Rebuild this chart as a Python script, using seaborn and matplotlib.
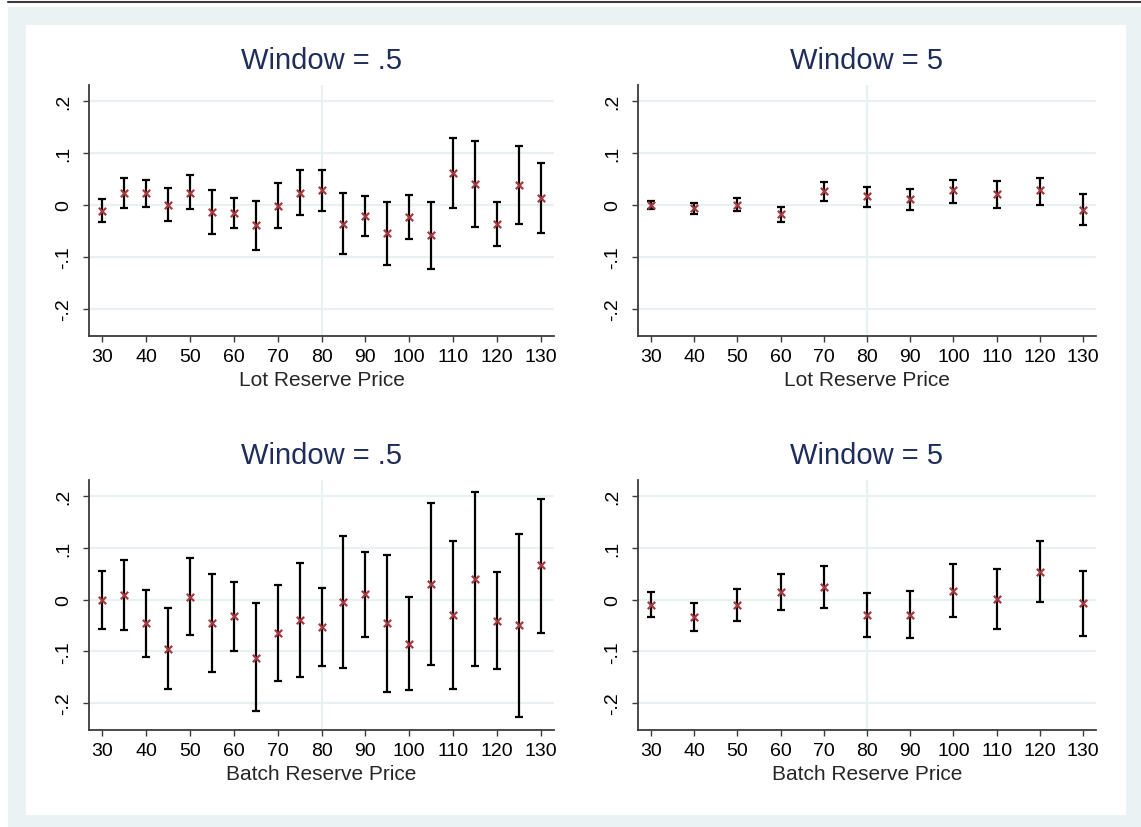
import numpy as np
import pandas as pd
import matplotlib
matplotlib.use("Agg")
import matplotlib.pyplot as plt
from matplotlib.patches import Rectangle
from matplotlib.lines import Line2D
import seaborn as sns

sns.set_theme(style="white")
plt.rcParams['font.family'] = ['Liberation Sans', 'DejaVu Sans']

# ---------------- data ----------------
x_fine = [30, 35, 40, 45, 50, 55, 60, 65, 70, 75, 80, 85, 90, 95, 100, 105, 110, 115, 120, 125, 130]
x_coarse = [30, 40, 50, 60, 70, 80, 90, 100, 110, 120, 130]

lot_w05_est = [-0.011, 0.023, 0.023, 0.001, 0.024, -0.014, -0.015, -0.039, -0.001, 0.023, 0.028,
               -0.036, -0.021, -0.054, -0.023, -0.058, 0.061, 0.041, -0.037, 0.038, 0.014]
lot_w05_hi = [0.011, 0.052, 0.049, 0.033, 0.058, 0.029, 0.014, 0.008, 0.043, 0.068, 0.068,
              0.023, 0.017, 0.006, 0.020, 0.006, 0.129, 0.123, 0.006, 0.113, 0.080]
lot_w05_lo = [-0.032, -0.005, -0.003, -0.030, -0.008, -0.055, -0.044, -0.086, -0.044, -0.020, -0.012,
              -0.095, -0.060, -0.115, -0.066, -0.124, -0.006, -0.042, -0.079, -0.037, -0.053]

lot_w5_est = [0.000, -0.006, 0.001, -0.017, 0.027, 0.017, 0.011, 0.028, 0.021, 0.028, -0.010]
lot_w5_hi = [0.008, 0.004, 0.014, -0.003, 0.044, 0.035, 0.031, 0.049, 0.047, 0.053, 0.021]
lot_w5_lo = [-0.008, -0.017, -0.012, -0.033, 0.008, -0.003, -0.010, 0.004, -0.005, 0.001, -0.038]

batch_w05_est = [0.000, 0.009, -0.046, -0.095, 0.005, -0.046, -0.032, -0.112, -0.065, -0.040, -0.053,
                 -0.005, 0.010, -0.046, -0.085, 0.031, -0.030, 0.040, -0.041, -0.050, 0.066]
batch_w05_hi = [0.055, 0.077, 0.019, -0.017, 0.080, 0.049, 0.034, -0.006, 0.029, 0.070, 0.023,
                0.122, 0.091, 0.086, 0.004, 0.187, 0.113, 0.207, 0.054, 0.126, 0.194]
batch_w05_lo = [-0.057, -0.059, -0.111, -0.173, -0.068, -0.140, -0.099, -0.216, -0.157, -0.149, -0.129,
                -0.132, -0.073, -0.179, -0.174, -0.126, -0.173, -0.128, -0.135, -0.226, -0.064]

batch_w5_est = [-0.010, -0.034, -0.011, 0.014, 0.024, -0.030, -0.029, 0.017, 0.001, 0.054, -0.007]
batch_w5_hi = [0.014, -0.006, 0.021, 0.050, 0.065, 0.012, 0.017, 0.068, 0.059, 0.113, 0.055]
batch_w5_lo = [-0.033, -0.061, -0.042, -0.021, -0.017, -0.072, -0.075, -0.034, -0.057, -0.004, -0.071]

titles = ["Window = .5", "Window = 5", "Window = .5", "Window = 5"]
xlabels = ["Lot Reserve Price", "Lot Reserve Price", "Batch Reserve Price", "Batch Reserve Price"]
ytick_vals = [-0.2, -0.1, 0, 0.1, 0.2]
ytick_labels = ["-.2", "-.1", "0", ".1", ".2"]

# ---------------- style ----------------
W, H = 1141, 828
fig = plt.figure(figsize=(W / 100, H / 100), dpi=100)
fig.patch.set_facecolor("white")

FRAME = "#EAF2F3"
GRID = "#E8F0F2"
SPINE = "#3c3c3c"
TITLE_C = "#1E2D5A"
MARK_C = "#A33A40"

def px_rect(x0, y0, x1, y1):
    return (x0 / W, 1 - y1 / H, (x1 - x0) / W, (y1 - y0) / H)

# outer frame (drawn beneath the axes)
fig.add_artist(Rectangle((8 / W, 0), 1 - 8 / W, 1 - 8 / H, transform=fig.transFigure,
                         facecolor=FRAME, edgecolor="none", zorder=-20))
fig.add_artist(Rectangle((26 / W, 1 - 816 / H), (1126 - 26) / W, (816 - 26) / H,
                         transform=fig.transFigure, facecolor="white", edgecolor="none", zorder=-19))
fig.add_artist(Line2D([8 / W, 1], [1 - 3 / H, 1 - 3 / H], transform=fig.transFigure,
                      color="#3a3a3a", linewidth=1.5, zorder=-18))

panels = [
    (px_rect(89, 86, 554, 337), x_fine, lot_w05_est, lot_w05_lo, lot_w05_hi, x_fine[::2]),
    (px_rect(638, 86, 1096, 337), x_coarse, lot_w5_est, lot_w5_lo, lot_w5_hi, x_coarse),
    (px_rect(89, 481, 554, 731), x_fine, batch_w05_est, batch_w05_lo, batch_w05_hi, x_fine[::2]),
    (px_rect(638, 481, 1096, 731), x_coarse, batch_w5_est, batch_w5_lo, batch_w5_hi, x_coarse),
]

for i, (rect, xs, est, lo, hi, xt) in enumerate(panels):
    ax = fig.add_axes(rect)
    ax.set_facecolor("white")
    df = pd.DataFrame({"price": xs, "est": est, "lo": lo, "hi": hi})
    # grid
    for yv in ytick_vals:
        ax.axhline(yv, color=GRID, linewidth=1.6, zorder=0)
    ax.axvline(80, color=GRID, linewidth=1.6, zorder=0)
    # error bars
    ax.errorbar(df["price"], df["est"],
                yerr=[df["est"] - df["lo"], df["hi"] - df["est"]],
                fmt="none", ecolor="black", elinewidth=1.6, capsize=3.2, capthick=1.6, zorder=2)
    sns.scatterplot(data=df, x="price", y="est", ax=ax, marker="x", color=MARK_C,
                    s=28, linewidth=1.6, zorder=3, legend=False)
    ax.set_xlim(27, 133)
    ax.set_ylim(-0.252, 0.231)
    ax.set_xticks(xt)
    ax.set_xticklabels([str(v) for v in xt], fontsize=14)
    ax.set_yticks(ytick_vals)
    ax.set_yticklabels(ytick_labels, fontsize=14, rotation=90, va="center")
    ax.set_xlabel(xlabels[i], fontsize=15, labelpad=3)
    ax.set_ylabel("")
    ax.set_title(titles[i], fontsize=21, color=TITLE_C, pad=12)
    for s in ["top", "right"]:
        ax.spines[s].set_visible(False)
    for s in ["left", "bottom"]:
        ax.spines[s].set_color(SPINE)
        ax.spines[s].set_linewidth(1.3)
    ax.tick_params(axis="both", direction="out", length=4, width=1.0, color=SPINE,
                   labelcolor="black", left=True, bottom=True)
    ax.tick_params(axis="x", pad=5)
    ax.tick_params(axis="y", pad=8)
    ax.grid(False)

fig.savefig("out.png", dpi=100)
